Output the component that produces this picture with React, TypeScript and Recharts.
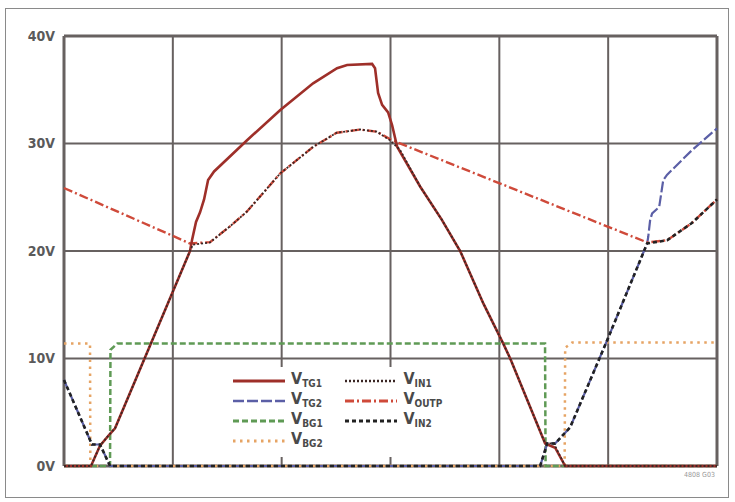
import React from 'react';
import { LineChart, Line, XAxis, YAxis, CartesianGrid, ReferenceLine } from 'recharts';

// time axis in tenths of a division (6 divisions), voltage in volts
const xTicks = [0, 10, 20, 30, 40, 50, 60];
const yTicks = [0, 10, 20, 30, 40];

const vtg1Pts: [number, number][] = [
  [0, 0], [2.48, 0], [3.31, 1.9], [4.23, 3.0], [4.69, 3.5], [11.58, 20.0], [11.76, 21.0],
  [12.13, 22.7], [12.5, 23.6], [12.87, 24.8], [13.24, 26.6], [13.79, 27.4], [16.82, 30.3],
  [19.85, 33.1], [22.89, 35.6], [25.09, 37.0], [26.01, 37.3], [28.31, 37.4], [28.58, 37.0],
  [28.86, 34.7], [29.23, 33.6], [29.78, 32.9], [30.15, 31.7], [30.61, 29.7], [32.72, 26.0],
  [34.72, 22.9], [36.4, 20.0], [38.54, 15.1], [40.35, 11.4], [41.0, 10.0], [44.21, 2.1],
  [45.13, 1.7], [46.05, 0], [60, 0],
];

const vtg2Pts: [number, number][] = [
  [0, 8.0], [2.57, 2.0], [3.31, 2.0], [4.23, 0], [43.75, 0], [44.4, 2.1], [45.13, 2.1],
  [46.51, 3.6], [49.91, 11.7], [53.58, 20.7], [53.68, 21.3], [53.86, 22.9], [54.04, 23.5],
  [54.69, 24.1], [55.06, 26.6], [55.42, 27.1], [57.72, 29.4], [60, 31.4],
];

const vbg1Pts: [number, number][] = [
  [0, 0], [4.23, 0], [4.27, 10.8], [4.9, 11.4], [44.2, 11.4], [44.25, 0], [60, 0],
];

const vbg2Pts: [number, number][] = [
  [0, 11.4], [2.39, 11.4], [2.42, 0], [46.0, 0], [46.05, 11.0], [46.7, 11.5], [60, 11.5],
];

const vin1Pts: [number, number][] = [
  [0, 0], [2.48, 0], [3.31, 1.9], [4.23, 3.0], [4.69, 3.5], [11.58, 20.0], [11.85, 20.6],
  [13.42, 20.8], [15.26, 22.3], [16.79, 23.65], [19.85, 27.2], [22.91, 29.7], [25.06, 31.0],
  [27.21, 31.3], [28.74, 31.1], [29.96, 30.3], [30.88, 29.4], [32.72, 26.0], [34.72, 22.9],
  [36.4, 20.0], [38.54, 15.1], [40.35, 11.4], [41.0, 10.0], [44.21, 2.1], [45.0, 2.1],
  [46.05, 0], [60, 0],
];

const voutpPts: [number, number][] = [
  [0, 25.86], [11.58, 20.7], [13.42, 20.83], [15.26, 22.3], [16.79, 23.65], [19.85, 27.2],
  [22.91, 29.7], [25.06, 31.0], [27.21, 31.3], [28.74, 31.1], [30.15, 30.3], [53.58, 20.8],
  [55.42, 21.0], [57.69, 22.6], [60, 24.8],
];

const vin2Pts: [number, number][] = [
  [0, 8.0], [2.57, 2.0], [3.31, 2.0], [4.23, 0], [43.75, 0], [44.4, 2.1], [45.13, 2.1],
  [46.51, 3.6], [49.91, 11.7], [53.58, 20.7], [55.42, 21.0], [57.69, 22.6], [60, 24.8],
];

const toData = (pts: [number, number][]) => pts.map(([t, v]) => ({ t, v }));

const series = [
  { key: 'VBG2', sub: 'BG2', pts: vbg2Pts, color: '#e6a464', width: 2.5, dash: '2.5 4.5' },
  { key: 'VBG1', sub: 'BG1', pts: vbg1Pts, color: '#5f9a55', width: 2.5, dash: '6 3' },
  { key: 'VTG2', sub: 'TG2', pts: vtg2Pts, color: '#5b5fa6', width: 2.2, dash: '11 3' },
  { key: 'VOUTP', sub: 'OUTP', pts: voutpPts, color: '#cf4a3a', width: 2.4, dash: '9 3 2 3' },
  { key: 'VTG1', sub: 'TG1', pts: vtg1Pts, color: '#9e2f29', width: 2.6, dash: undefined },
  { key: 'VIN1', sub: 'IN1', pts: vin1Pts, color: '#3a2624', width: 1.8, dash: '2 2' },
  { key: 'VIN2', sub: 'IN2', pts: vin2Pts, color: '#222222', width: 2.6, dash: '4 3' },
];

const legendCols = [
  ['VTG1', 'VTG2', 'VBG1', 'VBG2'],
  ['VIN1', 'VOUTP', 'VIN2'],
];

const font = '"DejaVu Sans Condensed", "Liberation Sans Narrow", "Liberation Sans", Arial, sans-serif';

const LegendItem = ({ name }: { name: string }) => {
  const s = series.find((x) => x.key === name)!;
  return (
    <div style={{ display: 'flex', alignItems: 'center', height: 20 }}>
      <svg width={52} height={8} style={{ marginRight: 6 }}>
        <line x1={0} y1={4} x2={52} y2={4} stroke={s.color} strokeWidth={s.width + 0.5} strokeDasharray={s.dash} />
      </svg>
      <span style={{ fontSize: 16, color: '#4a4a4a', fontWeight: 600, fontFamily: font, lineHeight: '16px' }}>
        V<sub style={{ fontSize: 10, verticalAlign: '-3px' }}>{s.sub}</sub>
      </span>
    </div>
  );
};

const App = () => {
  return (
    <div style={{ position: 'absolute', left: 0, top: 0, width: 735, height: 502, background: '#fff' }}>
      <div style={{ position: 'absolute', left: 5, top: 8, width: 722, height: 488, border: '1px solid #8a8a8a' }} />
      <LineChart
        width={735}
        height={502}
        margin={{ top: 36, right: 18, bottom: 36, left: 14 }}
      >
        <CartesianGrid stroke="#676160" strokeWidth={2} />
        <XAxis dataKey="t" type="number" domain={[0, 60]} ticks={xTicks} hide allowDuplicatedCategory={false} />
        <YAxis
          type="number"
          domain={[0, 40]}
          ticks={yTicks}
          width={50}
          axisLine={false}
          tickLine={false}
          tickSize={0}
          tickMargin={9}
          tickFormatter={(v) => `${v}V`}
          tick={{ fill: '#5a5a5a', fontSize: 14, fontWeight: 'bold', fontFamily: font }}
        />
        <ReferenceLine x={0} stroke="#676160" strokeWidth={3} />
        <ReferenceLine x={60} stroke="#676160" strokeWidth={3} />
        <ReferenceLine y={0} stroke="#676160" strokeWidth={3} />
        <ReferenceLine y={40} stroke="#676160" strokeWidth={3} />
        {series.map((s) => (
          <Line
            key={s.key}
            data={toData(s.pts)}
            dataKey="v"
            type="linear"
            stroke={s.color}
            strokeWidth={s.width}
            strokeDasharray={s.dash}
            dot={false}
            isAnimationActive={false}
          />
        ))}
      </LineChart>
      <div
        style={{
          position: 'absolute', left: 222, top: 367, width: 222, height: 90, background: '#fff',
          display: 'flex', paddingLeft: 11, paddingTop: 4, boxSizing: 'border-box',
        }}
      >
        {legendCols.map((col, i) => (
          <div key={i} style={{ width: i === 0 ? 114 : 100 }}>
            {col.map((n) => <LegendItem key={n} name={n} />)}
          </div>
        ))}
      </div>
      <div style={{ position: 'absolute', left: 684, top: 471, fontSize: 7, color: '#999', fontFamily: font }}>
        4808 G03
      </div>
    </div>
  );
};

export default App;
